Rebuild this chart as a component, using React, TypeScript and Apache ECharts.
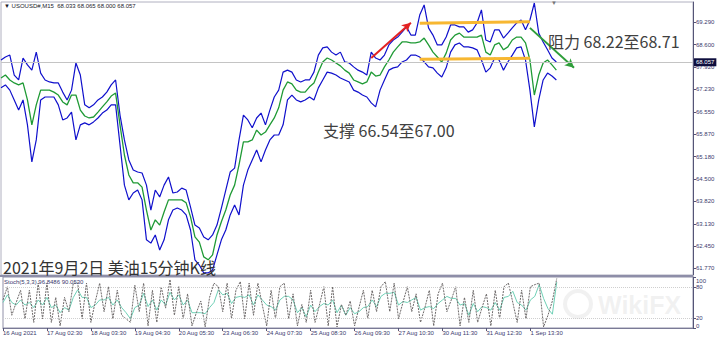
import React, { useEffect, useRef } from "react";
import * as echarts from "echarts";

const timeLabels = [
  "16 Aug 2021", "17 Aug 02:30", "18 Aug 03:30", "19 Aug 04:30", "20 Aug 05:30",
  "23 Aug 06:30", "24 Aug 07:30", "25 Aug 08:30", "26 Aug 09:30", "27 Aug 10:30",
  "30 Aug 11:30", "31 Aug 12:30", "1 Sep 13:30",
];
const categoryCount = 158;
const categories = Array.from({ length: categoryCount }, (_, i) => String(i));

const priceTicks = [69.29, 68.6, 67.92, 67.23, 66.55, 65.87, 65.18, 64.5, 63.82, 63.13, 62.45, 61.77];
const stochTicks = [0, 20, 80, 100];
const lastPrice = 68.057;

const upperBand = [
  68.13, 68.22, 68.28, 67.67, 67.52, 68.19, 67.98, 67.82, 68.37, 67.73,
  67.52, 67.46, 67.43, 67.43, 67.15, 66.91, 67.21, 68.04, 67.67, 66.76,
  66.67, 66.76, 66.91, 67.0, 67.15, 67.37, 67.52, 66.45, 65.69, 65.08,
  64.77, 64.71, 64.68, 64.31, 63.55, 64.16, 63.95, 64.31, 64.56, 64.07,
  64.1, 64.22, 64.16, 63.64, 63.09, 63.0, 62.73, 62.64, 62.79, 63.09,
  63.61, 64.16, 64.71, 64.83, 65.69, 66.45, 66.3, 66.06, 66.36, 66.51,
  66.15, 66.6, 67.0, 67.21, 67.76, 67.82, 67.76, 67.52, 67.46, 67.52,
  67.52, 67.76, 68.28, 68.5, 68.53, 68.37, 68.28, 68.37, 68.07, 68.04,
  67.92, 67.82, 67.76, 67.67, 68.37, 68.19, 68.13, 68.28, 68.59, 68.74,
  68.83, 68.98, 69.14, 68.89, 68.89, 69.5, 69.81, 69.11, 68.89, 68.59,
  68.59, 68.83, 69.2, 69.2, 69.14, 69.14, 68.98, 69.05, 69.26, 69.66,
  68.74, 68.68, 69.05, 69.05, 68.8, 68.95, 69.11, 69.26, 69.35, 69.05,
  69.35, 69.87, 68.95, 68.68, 68.44, 68.19, 68.07,
];

const midLine = [
  67.58, 67.67, 67.52, 67.43, 67.37, 67.43, 66.91, 66.15, 66.76, 67.21,
  67.21, 67.21, 67.15, 67.06, 66.85, 66.76, 67.06, 67.06, 66.6, 66.42,
  66.36, 66.39, 66.54, 66.7, 66.85, 67.03, 67.12, 66.15, 65.23, 64.62,
  64.38, 64.38, 64.25, 63.55, 62.94, 63.25, 63.09, 63.49, 63.86, 63.86,
  63.86, 63.86, 63.77, 63.34, 62.73, 62.57, 62.12, 62.03, 62.18, 62.79,
  63.19, 63.55, 64.01, 64.31, 64.93, 65.63, 65.63, 65.69, 65.99, 65.84,
  65.93, 66.15, 66.36, 66.67, 67.21, 67.46, 67.4, 67.21, 67.15, 67.15,
  67.31, 67.43, 67.76, 68.07, 68.19, 68.13, 68.04, 67.95, 67.82, 67.73,
  67.52, 67.46, 67.4, 67.46, 67.76, 67.64, 67.67, 67.92, 68.13, 68.37,
  68.53, 68.68, 68.68, 68.65, 68.65, 68.68, 68.8, 68.59, 68.37, 68.22,
  68.07, 68.34, 68.74, 68.89, 68.95, 68.83, 68.83, 68.83, 68.83, 68.89,
  68.37, 68.28, 68.59, 68.65, 68.44, 68.53, 68.74, 68.83, 68.83, 68.65,
  68.13, 67.06, 67.67, 68.04, 68.13, 67.98, 67.82,
];

const lowerBand = [
  67.28, 67.37, 67.21, 66.91, 66.6, 66.91, 66.15, 65.02, 65.69, 66.91,
  67.0, 67.0, 67.0, 66.76, 66.3, 66.36, 66.54, 65.69, 66.15, 66.21,
  66.15, 66.24, 66.36, 66.51, 66.6, 66.76, 66.76, 65.54, 64.31, 63.86,
  64.07, 64.16, 63.86, 62.64, 62.54, 62.79, 62.33, 62.64, 63.25, 63.55,
  63.61, 63.55, 63.4, 62.94, 62.03, 61.87, 61.63, 61.63, 61.72, 62.18,
  62.64, 62.94, 63.4, 63.7, 63.4, 64.31, 64.77, 65.08, 65.38, 65.02,
  65.38, 65.69, 65.84, 65.84, 66.15, 66.91, 67.06, 66.91, 66.85, 66.91,
  67.0, 66.91, 67.28, 67.52, 67.76, 67.73, 67.67, 67.58, 67.52, 67.46,
  67.21, 67.15, 67.06, 67.0, 66.82, 66.7, 67.21, 67.52, 67.82, 67.89,
  67.92, 68.07, 68.13, 68.28, 68.28, 68.22, 68.07, 67.92, 67.89, 67.73,
  67.61, 67.89, 68.37, 68.59, 68.65, 68.53, 68.53, 68.5, 68.44, 68.13,
  67.76, 67.89, 68.19, 68.13, 67.82, 68.07, 68.28, 68.5, 68.53, 68.13,
  67.21, 66.09, 66.91, 67.52, 67.73, 67.64, 67.52,
];

const stochMain = [
  55, 81, 25, 50, 74, 18, 74, 11, 88, 18,
  88, 11, 60, 4, 60, 32, 88, 88, 18, 88,
  11, 52, 88, 32, 81, 18, 74, 25, 18, 11,
  84, 32, 88, 4, 74, 11, 81, 39, 95, 25,
  81, 18, 67, 4, 30, 53, 2, 60, 88, 81,
  32, 88, 18, 74, 91, 18, 88, 25, 88, 45,
  4, 74, 18, 81, 88, 18, 67, 4, 46, 11,
  74, 11, 45, 81, 4, 81, 2, 46, 25, 53,
  4, 40, 74, 18, 74, 32, 81, 91, 32, 88,
  18, 50, 81, 32, 67, 11, 40, 74, 4, 67,
  88, 32, 55, 81, 4, 60, 11, 74, 11, 40,
  67, 4, 74, 18, 81, 88, 50, 11, 74, 18,
  81, 85, 88, 2, 25, 53, 97,
];

const stochSignal = [
  50, 65, 50, 45, 55, 45, 50, 40, 55, 45,
  60, 40, 45, 30, 40, 35, 60, 75, 60, 60,
  40, 45, 55, 55, 60, 45, 55, 40, 30, 18,
  40, 45, 68, 42, 55, 35, 55, 45, 70, 55,
  65, 45, 55, 30, 30, 30, 28, 40, 50, 75,
  65, 68, 48, 60, 62, 60, 65, 45, 65, 55,
  45, 42, 35, 55, 62, 62, 55, 30, 40, 22,
  45, 32, 42, 48, 45, 55, 30, 45, 25, 40,
  28, 32, 40, 42, 55, 42, 62, 68, 68, 70,
  45, 52, 50, 55, 60, 35, 40, 42, 38, 48,
  55, 62, 58, 58, 45, 48, 25, 48, 32, 42,
  40, 35, 50, 35, 60, 62, 72, 50, 45, 35,
  55, 62, 85, 58, 38, 27, 90,
];

const smallFont = "Liberation Sans";
const cjkFont = '"Noto Sans CJK SC", sans-serif';
const axisColor = "#3a3a6e";

export default function App() {
  const ref = useRef<HTMLDivElement>(null);
  useEffect(() => {
    if (!ref.current) return;
    const chart = echarts.init(ref.current, null, { renderer: "svg" });
    const labelInterval = (i: number) => i % 10 === 0 && i / 10 < timeLabels.length;
    const option: any = {
      animation: false,
      backgroundColor: "#ffffff",
      grid: [
        { left: 1, right: 27, top: 2, height: 273, show: true, borderColor: "#b0b0c0", borderWidth: 1 },
        { left: 1, right: 27, top: 277, height: 51, show: true, borderColor: "#9090a8", borderWidth: 1 },
      ],
      xAxis: [
        {
          type: "category", gridIndex: 0, data: categories, boundaryGap: false,
          axisLabel: { show: false }, axisTick: { show: false }, axisLine: { show: false },
        },
        {
          type: "category", gridIndex: 1, data: categories, boundaryGap: false,
          axisLine: { show: true, lineStyle: { color: "#7a7a96", width: 1 } },
          axisTick: { show: true, interval: labelInterval, length: 3, lineStyle: { color: "#555577" } },
          axisLabel: {
            show: true, interval: labelInterval, align: "left", margin: 2,
            fontSize: 6, fontFamily: smallFont, color: axisColor,
            formatter: (_v: string, i: number) => timeLabels[i / 10] ?? "",
          },
        },
      ],
      yAxis: [
        {
          type: "value", gridIndex: 0, position: "right", min: 61.567, max: 69.9,
          splitLine: { show: false },
          axisLine: { show: true, lineStyle: { color: "#555577" } },
          axisTick: { show: true, length: 3, customValues: priceTicks, lineStyle: { color: "#555577" } },
          axisLabel: {
            customValues: priceTicks, margin: 3, fontSize: 6, fontFamily: smallFont, color: axisColor,
            formatter: (v: number) => v.toFixed(3),
          },
        },
        {
          type: "value", gridIndex: 1, position: "right", min: 0, max: 100,
          splitLine: { show: false },
          axisLine: { show: true, lineStyle: { color: "#555577" } },
          axisTick: { show: true, length: 3, customValues: stochTicks, lineStyle: { color: "#555577" } },
          axisLabel: {
            customValues: stochTicks, margin: 3, fontSize: 6, fontFamily: smallFont, color: axisColor,
            formatter: (v: number) => (v === 100 ? "{top|100}" : v === 0 ? "{bot|0}" : String(v)),
            rich: {
              top: { fontSize: 6, fontFamily: smallFont, color: axisColor, padding: [7, 0, 0, 0] },
              bot: { fontSize: 6, fontFamily: smallFont, color: axisColor, padding: [0, 0, 5, 0] },
            },
          },
        },
      ],
      series: [
        {
          name: "upper", type: "line", xAxisIndex: 0, yAxisIndex: 0, data: upperBand,
          showSymbol: false, lineStyle: { color: "#1010cc", width: 1.2 },
          markLine: {
            silent: true, symbol: ["none", "arrow"], symbolSize: [7, 9],
            label: { show: false },
            data: [
              [{ coord: ["84", 68.19], lineStyle: { color: "#e32222", width: 2, type: "solid" } }, { coord: ["93", 69.27] }],
              [{ coord: ["120", 69.11], lineStyle: { color: "#2f9e3a", width: 2, type: "solid" } }, { coord: ["130", 67.89] }],
            ],
          },
        },
        {
          name: "lower", type: "line", xAxisIndex: 0, yAxisIndex: 0, data: lowerBand,
          showSymbol: false, lineStyle: { color: "#1010cc", width: 1.2 },
          markLine: {
            silent: true, symbol: ["none", "none"], label: { show: false },
            data: [
              [{ coord: ["95", 69.25], lineStyle: { color: "#f7b731", width: 3, type: "solid" } }, { coord: ["120", 69.3] }],
              [{ coord: ["95", 68.15], lineStyle: { color: "#f7b731", width: 3, type: "solid" } }, { coord: ["120", 68.18] }],
            ],
          },
        },
        {
          name: "price", type: "line", xAxisIndex: 0, yAxisIndex: 0, data: midLine,
          showSymbol: false, lineStyle: { color: "#1f9a35", width: 1.3 },
          z: 3,
          markLine: {
            silent: true, symbol: ["none", "none"],
            lineStyle: { color: "#c4c4c4", width: 1, type: "solid" },
            label: {
              show: true, position: "end", distance: 1, formatter: lastPrice.toFixed(3),
              backgroundColor: "#0e0e3e", color: "#ffffff", fontSize: 6, fontFamily: smallFont,
              padding: [1, 2, 1, 2],
            },
            data: [{ yAxis: lastPrice }],
          },
        },
        {
          name: "stochSignal", type: "line", xAxisIndex: 1, yAxisIndex: 1, data: stochSignal,
          showSymbol: false, lineStyle: { color: "#6fd0b6", width: 1 },
          markLine: {
            silent: true, symbol: ["none", "none"], label: { show: false },
            lineStyle: { color: "#cfcfcf", width: 1, type: "dotted" },
            data: [{ yAxis: 20 }, { yAxis: 80 }],
          },
        },
        {
          name: "stochMain", type: "line", xAxisIndex: 1, yAxisIndex: 1, data: stochMain,
          showSymbol: false, lineStyle: { color: "#6e6a6a", width: 1, type: [2, 1] },
        },
      ],
      graphic: [
        { type: "line", shape: { x1: 0, y1: 276, x2: 693, y2: 276 }, style: { stroke: "#8e8ea8", lineWidth: 2 }, z: 10 },
        {
          type: "text", x: 4, y: 6,
          style: { text: "▼ USOUSD#,M15  68.033 68.065 68.000 68.057", fontSize: 6, fontFamily: smallFont, fill: "#1a1a2a", verticalAlign: "middle" },
        },
        {
          type: "text", x: 551, y: 3,
          style: { text: "▼", fontSize: 6, fontFamily: smallFont, fill: "#777777", verticalAlign: "middle" },
        },
        {
          type: "text", x: 4, y: 282,
          style: { text: "Stoch(5,3,3) 96.8486 90.0530", fontSize: 6, fontFamily: smallFont, fill: "#3a3a6e", verticalAlign: "middle" },
          z: 10,
        },
        {
          type: "text", x: 548, y: 41,
          style: { text: "阻力 68.22至68.71", fontSize: 16, fontFamily: cjkFont, fill: "#404040", verticalAlign: "middle" },
          z: 10,
        },
        {
          type: "text", x: 323, y: 130,
          style: { text: "支撑 66.54至67.00", fontSize: 16, fontFamily: cjkFont, fill: "#404040", verticalAlign: "middle" },
          z: 10,
        },
        {
          type: "text", x: 3, y: 267,
          style: { text: "2021年9月2日 美油15分钟K线", fontSize: 16, fontFamily: cjkFont, fill: "#333333", verticalAlign: "middle" },
          z: 10,
        },
        {
          type: "ring", shape: { cx: 578, cy: 304, r: 15, r0: 11 },
          style: { fill: "rgba(200,200,200,0.25)" }, z: 0,
        },
        {
          type: "text", x: 598, y: 305,
          style: { text: "WikiFX", fontSize: 25, fontWeight: "bold", fontFamily: "Liberation Sans", fill: "rgba(200,200,200,0.25)", verticalAlign: "middle" },
          z: 0,
        },
      ],
    };
    chart.setOption(option);
    return () => chart.dispose();
  }, []);
  return (
    <div
      ref={ref}
      style={{ position: "absolute", left: 0, top: 0, width: 720, height: 341, background: "#ffffff" }}
    />
  );
}
